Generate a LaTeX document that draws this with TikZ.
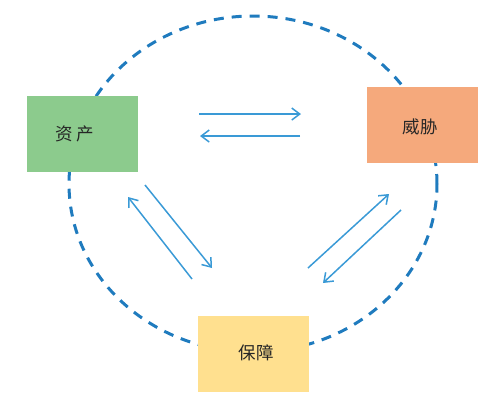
\documentclass[tikz,border=0pt]{standalone}
\usepackage{fontspec}
\newfontfamily\cjk{Noto Sans CJK SC}
\usetikzlibrary{arrows.meta}
\definecolor{ringblue}{HTML}{1F7BBE}
\definecolor{arrblue}{HTML}{3A9AD6}
\definecolor{boxgreen}{HTML}{8CCB8D}
\definecolor{boxorange}{HTML}{F5A97C}
\definecolor{boxyellow}{HTML}{FFE08F}
\begin{document}
\begin{tikzpicture}[x=1pt,y=-1pt,
  box/.style={draw=none,minimum width=111pt,minimum height=76pt,inner sep=0pt},
  lbl/.style={font=\cjk\fontsize{17.5}{17.5}\selectfont, text=black!85},
  flow/.style={draw=arrblue,line width=1.5pt,-{Straight Barb[length=8pt,width=12pt,line width=1.5pt]}},
  ring/.style={draw=ringblue,line width=3pt,dash pattern=on 10pt off 8pt}]
\useasboundingbox (0,0) rectangle (504,402);
\draw[ring] (253,184) ellipse [x radius=184pt, y radius=168pt];
\node[box,fill=boxgreen] (asset) at (82.5,134) {};
\node[lbl] (assett) at (74.5,134) {资\hspace{0.2em}产};
\node[box,fill=boxorange] (threat) at (422,125) {};
\node[lbl] (threatt) at (420,127) {威胁};
\node[box,fill=boxyellow] (guard) at (253,353.5) {};
\node[lbl] (guardt) at (256,353) {保障};
% arrow end points
\coordinate (h1a) at (199,114); \coordinate (h1b) at (301,114);
\coordinate (h2a) at (300,136); \coordinate (h2b) at (200,136);
\coordinate (l1a) at (145,185); \coordinate (l1b) at (212,268);
\coordinate (l2a) at (192,279); \coordinate (l2b) at (128,197);
\coordinate (r1a) at (308,268); \coordinate (r1b) at (389,194);
\coordinate (r2a) at (401,210); \coordinate (r2b) at (323,283);
\draw[flow] (h1a) -- (h1b);
\draw[flow] (h2a) -- (h2b);
\draw[flow] (l1a) -- (l1b);
\draw[flow] (l2a) -- (l2b);
\draw[flow] (r1a) -- (r1b);
\draw[flow] (r2a) -- (r2b);
\end{tikzpicture}
\end{document}
